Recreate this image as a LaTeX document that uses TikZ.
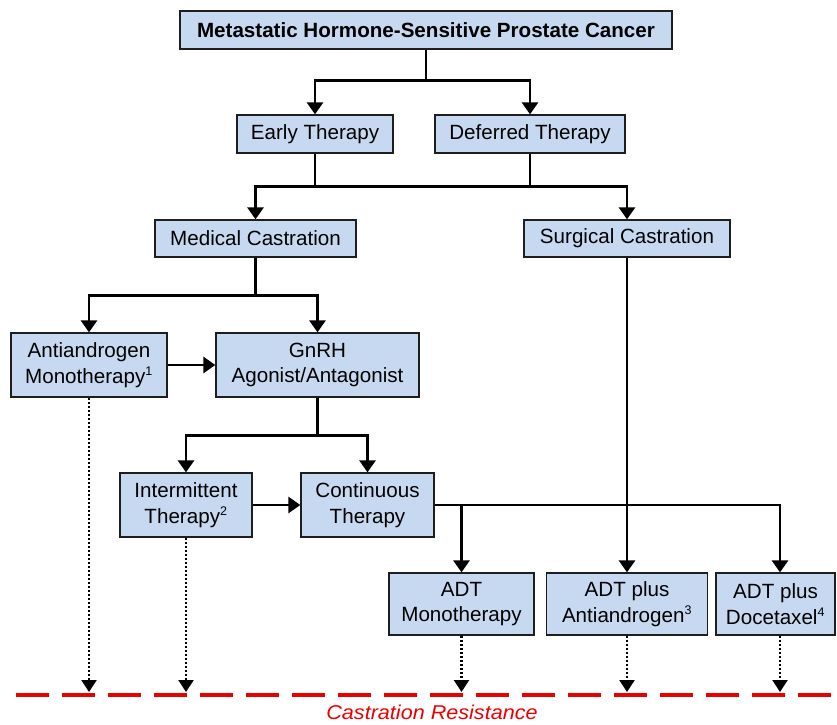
\documentclass[tikz,border=0pt]{standalone}
\usepackage{fontspec}
\setmainfont{Liberation Sans}
\usepackage{graphicx}
\usetikzlibrary{arrows.meta}
\definecolor{boxfill}{RGB}{198,217,241}
\definecolor{boxline}{RGB}{30,30,30}
\definecolor{resred}{RGB}{235,0,0}
\newcommand{\supr}[1]{\textsuperscript{\fontsize{12.5}{12.5}\selectfont #1}}
\begin{document}
\begin{tikzpicture}[x=1pt,y=-1pt,
  box/.style={draw=boxline, line width=1.3pt, fill=boxfill, inner sep=0pt,
    align=center, font=\fontsize{20.6}{25.5}\selectfont},
  conn/.style={line width=2.8pt, -{Triangle[width=16pt,length=12pt]}},
  plain/.style={line width=2.8pt},
  dotarr/.style={line width=2.2pt, dash pattern=on 2pt off 2pt,
    -{Triangle[width=15pt,length=12pt]}},
  redline/.style={line width=4.5pt, color=resred, dash pattern=on 33pt off 13pt},
]
\useasboundingbox (0,0) rectangle (837,724);

% boxes
\node[box, font=\bfseries\fontsize{20.6}{25.5}\selectfont, minimum width=492pt, minimum height=38pt] (top) at (426,30) {Metastatic Hormone-Sensitive Prostate Cancer};
\node[box, minimum width=156pt, minimum height=38pt] (early) at (315,134) {Early Therapy};
\node[box, minimum width=190pt, minimum height=38pt] (deferred) at (530,134) {Deferred Therapy};
\node[box, minimum width=201pt, minimum height=37pt] (medical) at (255.5,238.5) {Medical Castration};
\node[box, minimum width=206pt, minimum height=37pt] (surgical) at (627,238.5) {Surgical Castration};
\node[box, minimum width=156pt, minimum height=64pt] (anti) at (89,365) {Antiandrogen\\Monotherapy\supr{1}};
\node[box, minimum width=203pt, minimum height=64pt] (gnrh) at (317.5,365) {GnRH\\Agonist/Antagonist};
\node[box, minimum width=132pt, minimum height=64pt] (inter) at (186,505) {Intermittent\\Therapy\supr{2}};
\node[box, minimum width=133pt, minimum height=64pt] (cont) at (367.5,505) {Continuous\\Therapy};
\node[box, minimum width=145pt, minimum height=62pt] (adtmono) at (461.5,604) {ADT\\Monotherapy};
\node[box, minimum width=161pt, minimum height=62pt] (adtanti) at (627,604) {ADT plus\\Antiandrogen\supr{3}};
\node[box, minimum width=119pt, minimum height=62pt] (adtdoc) at (775.5,604) {ADT plus\\Docetaxel\supr{4}};

% connectors
\draw[conn] (top.south) -- ++(0,31) -| (early.north);
\draw[conn] (top.south) -- ++(0,31) -| (deferred.north);

\coordinate (j2a) at ([yshift=-33pt]early.south);
\coordinate (j2b) at ([yshift=-33pt]deferred.south);
\draw[plain] (early.south) -- (j2a);
\draw[plain] (deferred.south) -- (j2b);
\draw[plain] (j2a) -- (j2b);
\draw[conn] (j2a) -| (medical.north);
\draw[conn] (j2b) -| (surgical.north);

\draw[conn] (medical.south) -- ++(0,38) -| (anti.north);
\draw[conn] (medical.south) -- ++(0,38) -| (gnrh.north);
\draw[conn] (anti.east) -- (gnrh.west);

\draw[conn] (gnrh.south) -- ++(0,38) -| (inter.north);
\draw[conn] (gnrh.south) -- ++(0,38) -| (cont.north);
\draw[conn] (inter.east) -- (cont.west);

\coordinate (docin) at ([xshift=4.5pt]adtdoc.north);
\draw[conn] (cont.east) -| (docin);
\draw[conn] (cont.east) -| (adtmono.north);
\draw[conn] (surgical.south) -- (surgical.south |- adtanti.north);

% castration resistance line
\coordinate (rs) at (16,695);
\coordinate (re) at (837,695);
\draw[redline] (rs) -- (re);
\coordinate (rl) at (0,692);
\draw[dotarr] (anti.south) -- (anti.south |- rl);
\draw[dotarr] (inter.south) -- (inter.south |- rl);
\draw[dotarr] (adtmono.south) -- (adtmono.south |- rl);
\draw[dotarr] (adtanti.south) -- (adtanti.south |- rl);
\draw[dotarr] ([xshift=4.5pt]adtdoc.south) -- ([xshift=4.5pt]adtdoc.south |- rl);

\node[text=resred, font=\itshape\fontsize{20}{24}\selectfont, inner sep=0pt] (cr) at (432,712) {\scalebox{1.08}[1]{Castration Resistance}};
\end{tikzpicture}
\end{document}
